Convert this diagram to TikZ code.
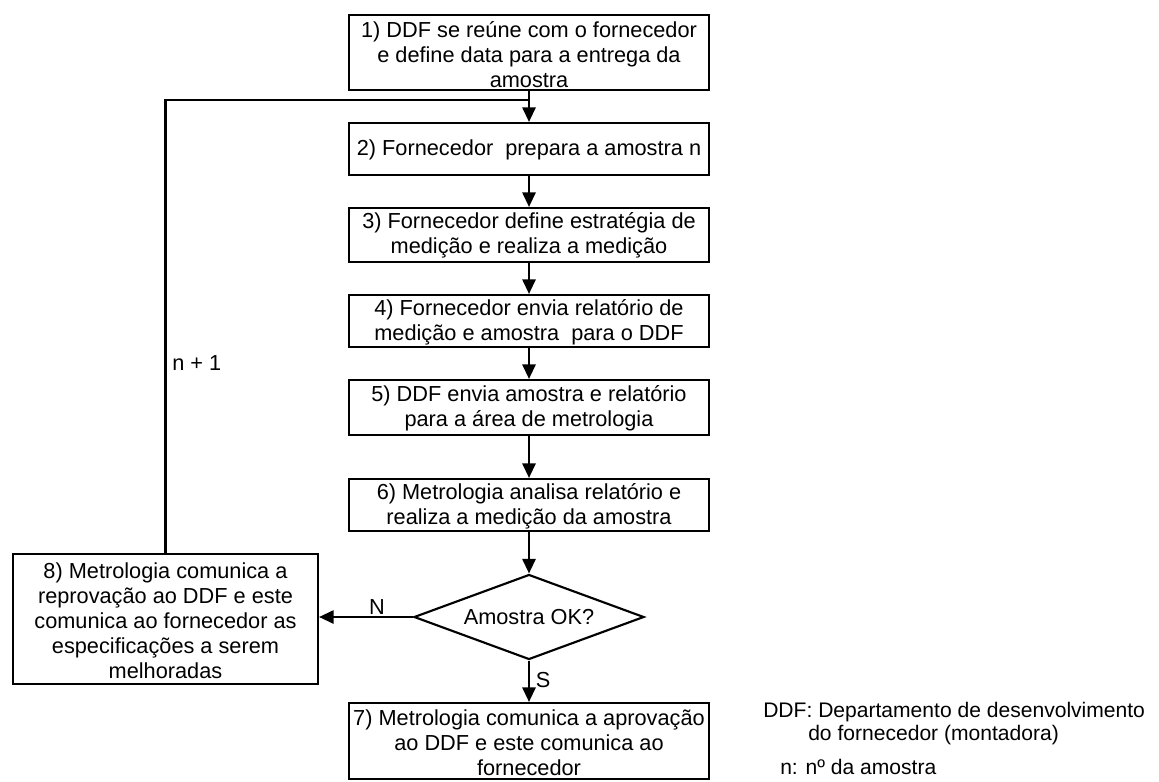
\documentclass[tikz,border=0pt]{standalone}
\usepackage{fontspec}
\setmainfont{Liberation Sans}
\usetikzlibrary{arrows.meta,shapes.geometric}
\newcommand\boxfont{\fontsize{16.3pt}{18.75pt}\selectfont}
\newcommand\notefont{\fontsize{15.8pt}{18.75pt}\selectfont}
\tikzset{
  stepbox/.style={draw, line width=1.6pt, minimum width=270pt, inner sep=0pt},
  steptext/.style={align=center, font=\boxfont, inner sep=0pt},
  decision/.style={draw, diamond, aspect=2.7, line width=1.6pt, minimum width=172.5pt,
    minimum height=63.75pt, inner sep=0pt, font=\boxfont},
  flow/.style={line width=1.6pt, -{Triangle[length=11pt,width=10pt]}},
  plain/.style={line width=1.6pt},
  tag/.style={font=\boxfont, inner sep=0pt},
  note/.style={font=\notefont, inner sep=0pt, anchor=west}
}
\begin{document}
\begin{tikzpicture}[x=0.75pt,y=-0.75pt]
\useasboundingbox (0,0) rectangle (1159,781);

% process steps
\node[stepbox, minimum height=56.25pt] (s1) at (529,52.5) {};
\node[steptext] (t1) at (529,55) {1) DDF se reúne com o fornecedor\\ e define data para a entrega da\\ amostra};

\node[stepbox, minimum height=39pt] (s2) at (529,149) {};
\node[steptext] (t2) at (529,150) {2) Fornecedor\ \ prepara a amostra n};

\node[stepbox, minimum height=40.5pt] (s3) at (529,235) {};
\node[steptext] (t3) at (529,235.5) {3) Fornecedor define estratégia de\\ medição e realiza a medição};

\node[stepbox, minimum height=39pt] (s4) at (529,321) {};
\node[steptext] (t4) at (529,322.5) {4) Fornecedor envia relatório de\\ medição e amostra\ \ para o DDF};

\node[stepbox, minimum height=41.25pt] (s5) at (529,407.5) {};
\node[steptext] (t5) at (529,408.5) {5) DDF envia amostra e relatório\\ para a área de metrologia};

\node[stepbox, minimum height=39pt] (s6) at (529,505) {};
\node[steptext] (t6) at (529,506) {6) Metrologia analisa relatório e\\ realiza a medição da amostra};

\node[decision] (d) at (529,617) {Amostra OK?};

\node[stepbox, minimum height=57pt] (s7) at (529,741) {};
\node[steptext] (t7) at (529,743) {7) Metrologia comunica a aprovação\\ ao DDF e este comunica ao\\ fornecedor};

\node[stepbox, minimum width=228.75pt, minimum height=97.5pt] (s8) at (165.5,619) {};
\node[steptext] (t8) at (165.5,621) {8) Metrologia comunica a\\ reprovação ao DDF e este\\ comunica ao fornecedor as\\ especificações a serem\\ melhoradas};

% connectors
\coordinate (j) at (529,100);
\draw[flow] (s1) -- (s2);
\draw[flow] (s2) -- (s3);
\draw[flow] (s3) -- (s4);
\draw[flow] (s4) -- (s5);
\draw[flow] (s5) -- (s6);
\draw[flow] (s6) -- (d);
\draw[flow] (d) -- (s7);
\draw[flow] (d.west) -- (d.west -| s8.east);
\draw[plain] (s8.north) |- (j);

% branch labels
\node[tag] (lN) at (377,607) {N};
\node[tag] (lS) at (543,680) {S};
\node[tag, anchor=west] (lloop) at (172,363) {n + 1};

% legend
\node[note] (k1) at (763,712) {DDF: Departamento de desenvolvimento};
\node[note] (k2) at (808,735) {do fornecedor (montadora)};
\node[note] (k3) at (780,767) {n: nº da amostra};
\end{tikzpicture}
\end{document}
